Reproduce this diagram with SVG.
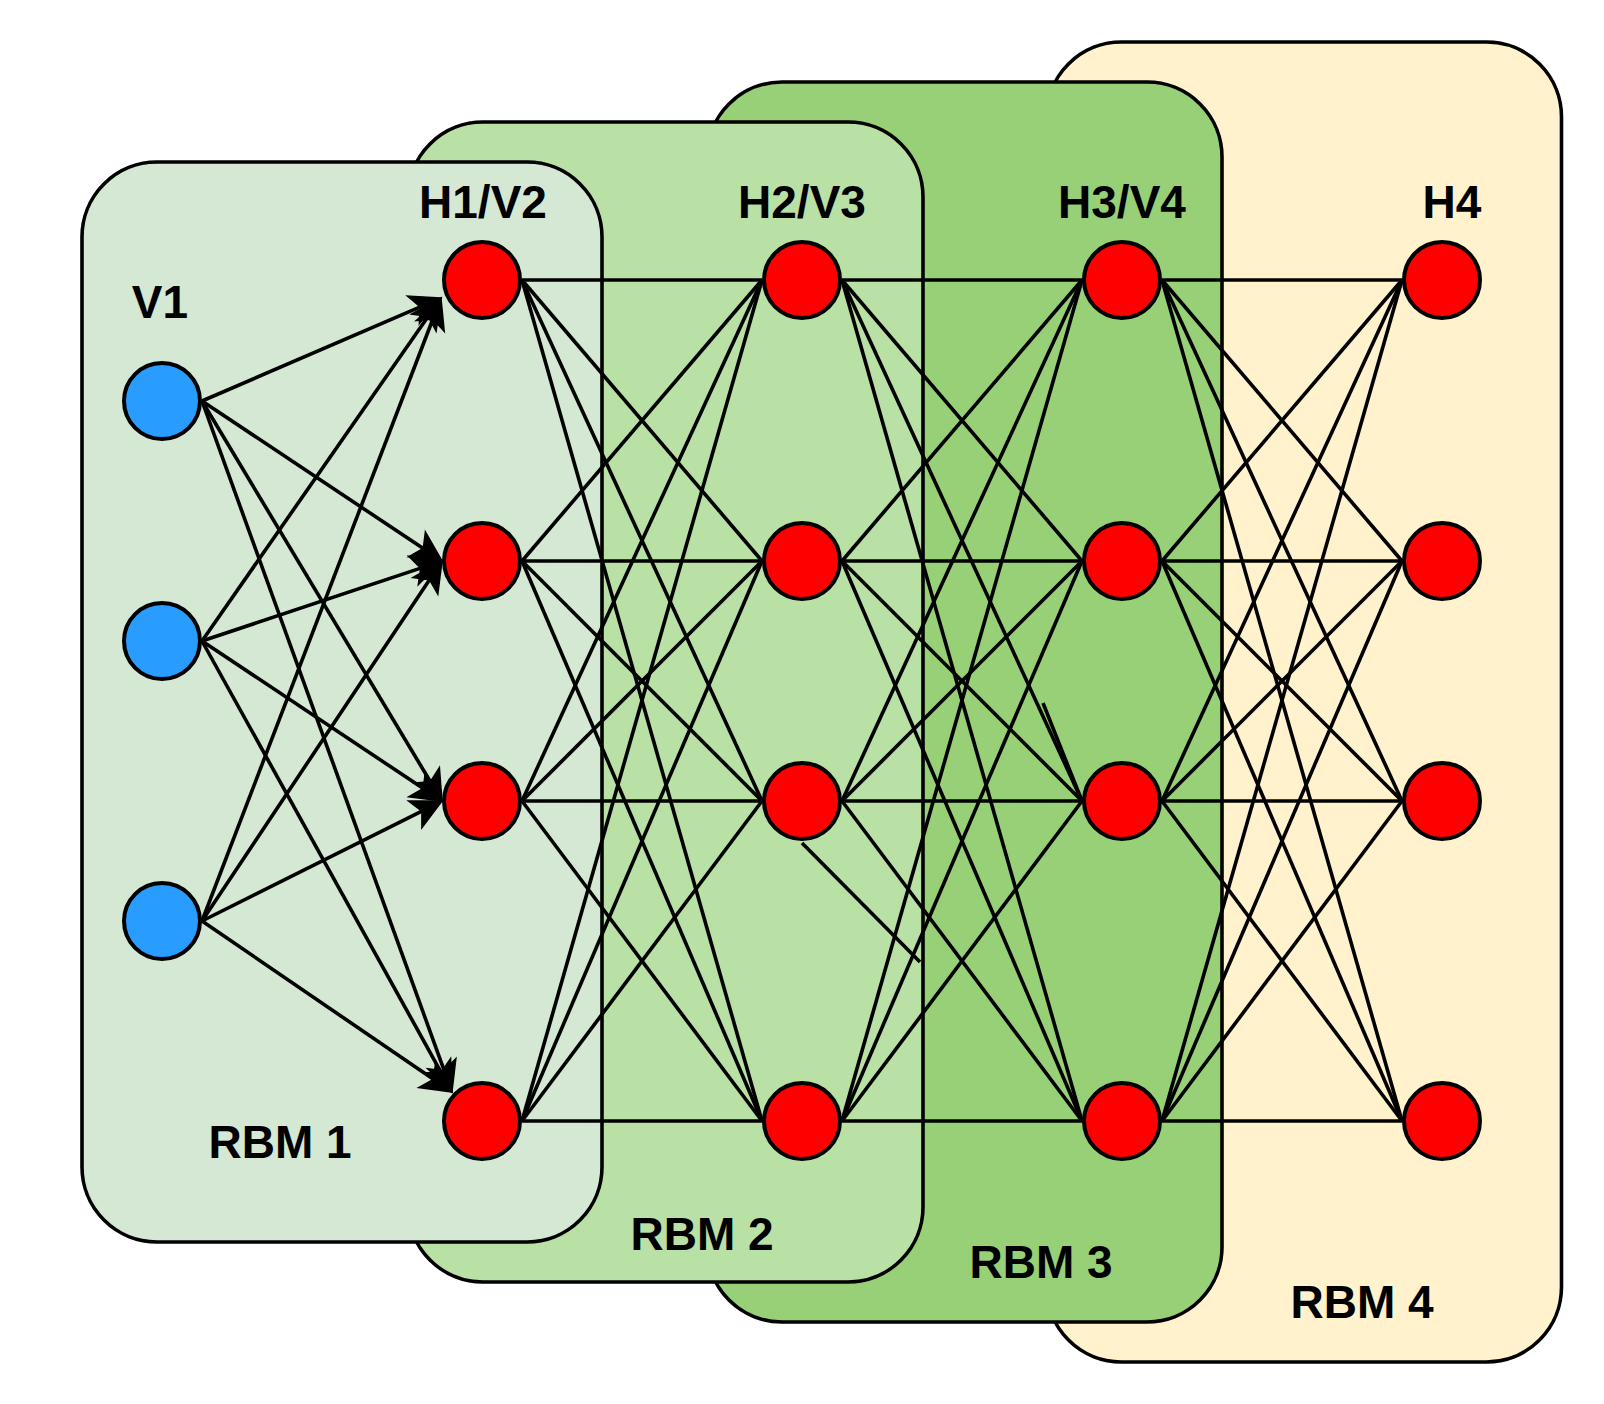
<svg xmlns="http://www.w3.org/2000/svg" width="1604" height="1404" viewBox="0 0 1604 1404">
<defs>
<style>
.box{stroke:#000;stroke-width:3.6}
.e{stroke:#000;stroke-width:3.6;fill:none;stroke-linecap:butt}
.a{marker-end:url(#arr)}
.red{fill:#FF0000;stroke:#000;stroke-width:4}
.blue{fill:#299CFF;stroke:#000;stroke-width:4}
.t{font-family:"Liberation Sans",Arial,Helvetica,sans-serif;font-weight:bold;font-size:46px;fill:#000;text-anchor:middle}
</style>
<marker id="arr" markerUnits="userSpaceOnUse" viewBox="0 0 30 30" markerWidth="30" markerHeight="30" refX="7.5" refY="15" orient="auto" overflow="visible">
<path d="M30,15 L0,0 L7.5,15 L0,30 Z" fill="#000" stroke="#000" stroke-width="1.5"/>
</marker>
</defs>
<rect width="1604" height="1404" fill="#FFFFFF"/>
<g id="rbm4"><rect class="box" x="1046.5" y="42" width="515" height="1320" rx="75" ry="75" fill="#FFF2CC"/><text class="t" x="1362" y="1318">RBM 4</text></g>
<g id="rbm3"><rect class="box" x="707" y="82" width="515" height="1240" rx="75" ry="75" fill="#97D077"/><text class="t" x="1041" y="1278">RBM 3</text></g>
<g id="rbm2"><rect class="box" x="408" y="122" width="515" height="1160" rx="75" ry="75" fill="#B9E0A5"/><text class="t" x="702" y="1250">RBM 2</text></g>
<g id="rbm1"><rect class="box" x="82" y="162" width="520" height="1080" rx="75" ry="75" fill="#D5E8D4"/><text class="t" x="280" y="1158">RBM 1</text></g>
<g id="connectors">
<line class="e a" x1="202" y1="401" x2="420.3" y2="306.9"/>
<line class="e a" x1="202" y1="401" x2="423.3" y2="548.5"/>
<line class="e a" x1="202" y1="401" x2="430.4" y2="781.7"/>
<line class="e a" x1="202" y1="401" x2="444.3" y2="1070.8"/>
<line class="e a" x1="202" y1="641" x2="428.1" y2="316.5"/>
<line class="e a" x1="202" y1="641" x2="420.7" y2="568.1"/>
<line class="e a" x1="202" y1="641" x2="423.3" y2="788.5"/>
<line class="e a" x1="202" y1="641" x2="441.1" y2="1072.3"/>
<line class="e a" x1="202" y1="921" x2="432.9" y2="319"/>
<line class="e a" x1="202" y1="921" x2="429.5" y2="579.7"/>
<line class="e a" x1="202" y1="921" x2="421.9" y2="811.1"/>
<line class="e a" x1="202" y1="921" x2="433.4" y2="1079.3"/>
<line class="e" x1="522" y1="280" x2="762" y2="280"/><line class="e" x1="522" y1="280" x2="762" y2="561"/><line class="e" x1="522" y1="280" x2="762" y2="801"/><line class="e" x1="522" y1="280" x2="762" y2="1121"/>
<line class="e" x1="522" y1="561" x2="762" y2="280"/><line class="e" x1="522" y1="561" x2="762" y2="561"/><line class="e" x1="522" y1="561" x2="762" y2="801"/><line class="e" x1="522" y1="561" x2="762" y2="1121"/>
<line class="e" x1="522" y1="801" x2="762" y2="280"/><line class="e" x1="522" y1="801" x2="762" y2="561"/><line class="e" x1="522" y1="801" x2="762" y2="801"/><line class="e" x1="522" y1="801" x2="762" y2="1121"/>
<line class="e" x1="522" y1="1121" x2="762" y2="280"/><line class="e" x1="522" y1="1121" x2="762" y2="561"/><line class="e" x1="522" y1="1121" x2="762" y2="801"/><line class="e" x1="522" y1="1121" x2="762" y2="1121"/>
<line class="e" x1="842" y1="280" x2="1082" y2="280"/><line class="e" x1="842" y1="280" x2="1082" y2="561"/><line class="e" x1="842" y1="280" x2="1082" y2="801"/><line class="e" x1="842" y1="280" x2="1082" y2="1121"/>
<line class="e" x1="842" y1="561" x2="1082" y2="280"/><line class="e" x1="842" y1="561" x2="1082" y2="561"/><line class="e" x1="842" y1="561" x2="1082" y2="801"/><line class="e" x1="842" y1="561" x2="1082" y2="1121"/>
<line class="e" x1="842" y1="801" x2="1082" y2="280"/><line class="e" x1="842" y1="801" x2="1082" y2="561"/><line class="e" x1="842" y1="801" x2="1082" y2="801"/><line class="e" x1="842" y1="801" x2="1082" y2="1121"/>
<line class="e" x1="842" y1="1121" x2="1082" y2="280"/><line class="e" x1="842" y1="1121" x2="1082" y2="561"/><line class="e" x1="842" y1="1121" x2="1082" y2="801"/><line class="e" x1="842" y1="1121" x2="1082" y2="1121"/>
<line class="e" x1="1162" y1="280" x2="1402" y2="280"/><line class="e" x1="1162" y1="280" x2="1402" y2="561"/><line class="e" x1="1162" y1="280" x2="1402" y2="801"/><line class="e" x1="1162" y1="280" x2="1402" y2="1121"/>
<line class="e" x1="1162" y1="561" x2="1402" y2="280"/><line class="e" x1="1162" y1="561" x2="1402" y2="561"/><line class="e" x1="1162" y1="561" x2="1402" y2="801"/><line class="e" x1="1162" y1="561" x2="1402" y2="1121"/>
<line class="e" x1="1162" y1="801" x2="1402" y2="280"/><line class="e" x1="1162" y1="801" x2="1402" y2="561"/><line class="e" x1="1162" y1="801" x2="1402" y2="801"/><line class="e" x1="1162" y1="801" x2="1402" y2="1121"/>
<line class="e" x1="1162" y1="1121" x2="1402" y2="280"/><line class="e" x1="1162" y1="1121" x2="1402" y2="561"/><line class="e" x1="1162" y1="1121" x2="1402" y2="801"/><line class="e" x1="1162" y1="1121" x2="1402" y2="1121"/>
<line class="e" x1="802" y1="843" x2="920" y2="962"/>
<line class="e" x1="1043" y1="703" x2="1082" y2="801"/>
</g>
<g id="v1"><circle class="blue" cx="162" cy="401" r="38"/><circle class="blue" cx="162" cy="641" r="38"/><circle class="blue" cx="162" cy="921" r="38"/><text class="t" x="160" y="318">V1</text></g>
<g id="h1v2"><circle class="red" cx="482" cy="280" r="38"/><circle class="red" cx="482" cy="561" r="38"/><circle class="red" cx="482" cy="801" r="38"/><circle class="red" cx="482" cy="1121" r="38"/><text class="t" x="483" y="218">H1/V2</text></g>
<g id="h2v3"><circle class="red" cx="802" cy="280" r="38"/><circle class="red" cx="802" cy="561" r="38"/><circle class="red" cx="802" cy="801" r="38"/><circle class="red" cx="802" cy="1121" r="38"/><text class="t" x="802" y="218">H2/V3</text></g>
<g id="h3v4"><circle class="red" cx="1122" cy="280" r="38"/><circle class="red" cx="1122" cy="561" r="38"/><circle class="red" cx="1122" cy="801" r="38"/><circle class="red" cx="1122" cy="1121" r="38"/><text class="t" x="1122" y="218">H3/V4</text></g>
<g id="h4"><circle class="red" cx="1442" cy="280" r="38"/><circle class="red" cx="1442" cy="561" r="38"/><circle class="red" cx="1442" cy="801" r="38"/><circle class="red" cx="1442" cy="1121" r="38"/><text class="t" x="1452" y="218">H4</text></g>
</svg>
